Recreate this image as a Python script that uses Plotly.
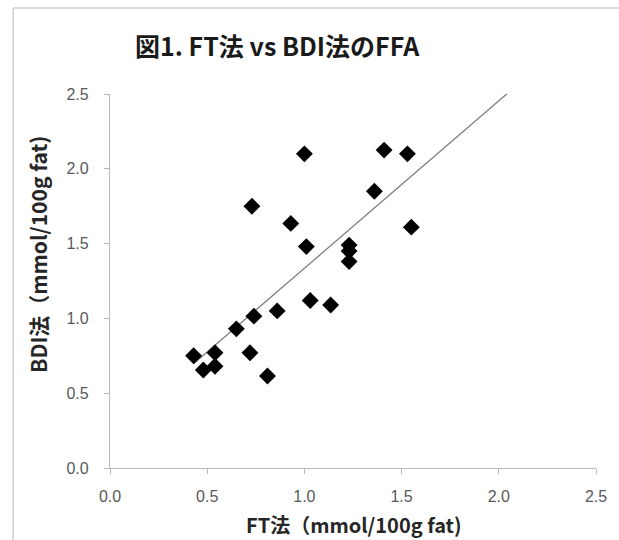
import numpy as np
import plotly.graph_objects as go

# Data
ft_values = [0.43, 0.48, 0.54, 0.54, 0.65, 0.72, 0.74, 0.73, 0.81, 0.86, 0.93,
             1.00, 1.01, 1.03, 1.135, 1.23, 1.23, 1.23, 1.36, 1.41, 1.53, 1.55]
bdi_values = [0.75, 0.655, 0.77, 0.68, 0.93, 0.77, 1.015, 1.75, 0.615, 1.05, 1.635,
              2.10, 1.48, 1.12, 1.09, 1.49, 1.45, 1.38, 1.85, 2.125, 2.10, 1.61]
tick_values = [0.0, 0.5, 1.0, 1.5, 2.0, 2.5]
tick_labels = ["0.0", "0.5", "1.0", "1.5", "2.0", "2.5"]
forecast_forward = 0.5

title_text = "図1. FT法 vs BDI法のFFA"
x_title = "FT法（mmol/100g fat)"
y_title = "BDI法（mmol/100g fat)"

# Linear trendline (least squares) with forward forecast
slope, intercept = np.polyfit(ft_values, bdi_values, 1)
tx = np.array([min(ft_values), max(ft_values) + forecast_forward])
ty = slope * tx + intercept

W, H = 619, 540
L, R, T, B = 110, 17, 94, 72
pw, ph = W - L - R, H - T - B

def px_x(p):
    return (p - L) / pw

def px_y(p):
    return (H - B - p) / ph

fig = go.Figure()
fig.add_trace(go.Scatter(
    x=tx, y=ty, mode="lines",
    line=dict(color="#7f7f7f", width=1.3),
    hoverinfo="skip", showlegend=False, cliponaxis=True,
))
fig.add_trace(go.Scatter(
    x=ft_values, y=bdi_values, mode="markers",
    marker=dict(symbol="diamond", size=13, color="black", line=dict(width=0)),
    showlegend=False,
))

axis_common = dict(
    range=[0, 2.5], tickvals=tick_values, ticktext=tick_labels,
    showgrid=False, zeroline=False, showline=True,
    linecolor="#b8b8b8", linewidth=1.2,
    ticks="outside", ticklen=5, tickcolor="#b8b8b8", tickwidth=1.2,
    tickfont=dict(family="Liberation Sans, Arial", size=16, color="#595959"),
)

fig.update_layout(
    width=W, height=H,
    margin=dict(l=L, r=R, t=T, b=B),
    paper_bgcolor="white", plot_bgcolor="white",
    xaxis=dict(**axis_common, ticklabelstandoff=9),
    yaxis=dict(**axis_common, ticklabelstandoff=12),
    annotations=[
        dict(text=f"<b>{title_text}</b>", xref="paper", yref="paper",
             x=px_x(280), y=px_y(45), xanchor="center", yanchor="middle",
             showarrow=False,
             font=dict(family="Noto Sans CJK JP", size=25, color="#1a1a1a")),
        dict(text=f"<b>{x_title}</b>", xref="paper", yref="paper",
             x=px_x(357), y=px_y(524), xanchor="center", yanchor="middle",
             showarrow=False,
             font=dict(family="Noto Sans CJK JP", size=20, color="#262626")),
        dict(text=f"<b>{y_title}</b>", xref="paper", yref="paper",
             x=px_x(37), y=px_y(254), xanchor="center", yanchor="middle",
             showarrow=False, textangle=-90,
             font=dict(family="Noto Sans CJK JP", size=21, color="#262626")),
    ],
    shapes=[
        dict(type="line", xref="paper", yref="paper",
             x0=px_x(12), x1=px_x(640), y0=px_y(8), y1=px_y(8),
             line=dict(color="#d0d0d0", width=1.5)),
        dict(type="line", xref="paper", yref="paper",
             x0=px_x(12), x1=px_x(12), y0=px_y(8), y1=px_y(560),
             line=dict(color="#d0d0d0", width=1.5)),
    ],
)

fig.write_html("out.html")
